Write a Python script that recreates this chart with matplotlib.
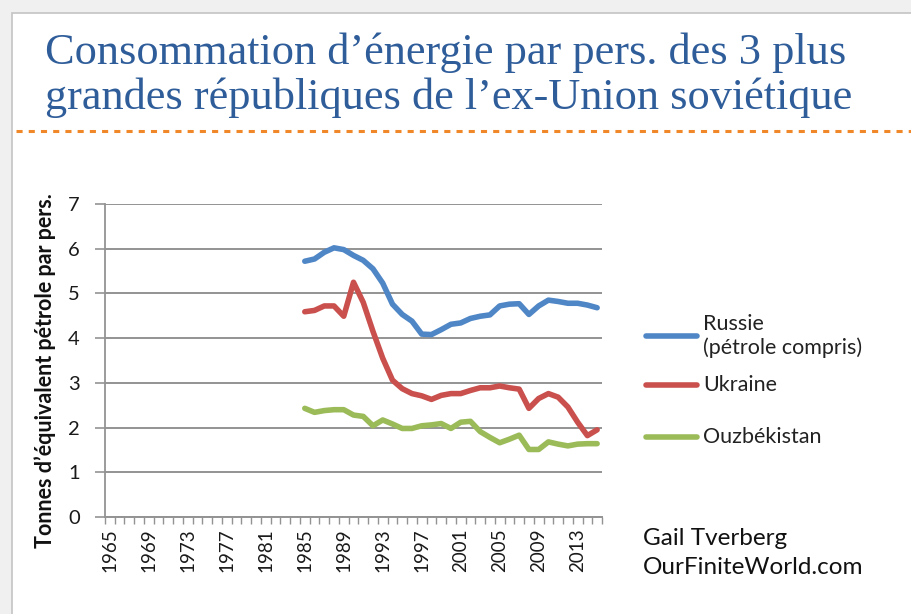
import matplotlib
matplotlib.use("Agg")
import matplotlib.pyplot as plt
from matplotlib.patches import Rectangle
from matplotlib.lines import Line2D
import numpy as np

# ---------------- data ----------------
years = list(range(1985, 2016))
russie = [5.72, 5.77, 5.92, 6.02, 5.98, 5.85, 5.74, 5.55, 5.23, 4.76, 4.53, 4.38, 4.09, 4.08, 4.19,
          4.31, 4.34, 4.44, 4.49, 4.52, 4.72, 4.76, 4.77, 4.53, 4.72, 4.85, 4.82, 4.78, 4.78, 4.74, 4.68]
ukraine = [4.59, 4.62, 4.72, 4.72, 4.49, 5.25, 4.80, 4.15, 3.55, 3.06, 2.87, 2.76, 2.71, 2.63, 2.72,
           2.76, 2.76, 2.83, 2.89, 2.89, 2.93, 2.89, 2.86, 2.43, 2.65, 2.76, 2.68, 2.46, 2.12, 1.82, 1.95]
ouzbek = [2.43, 2.34, 2.38, 2.40, 2.40, 2.28, 2.25, 2.04, 2.17, 2.08, 1.98, 1.98, 2.04, 2.06, 2.09,
          1.98, 2.12, 2.14, 1.91, 1.78, 1.66, 1.74, 1.83, 1.51, 1.51, 1.68, 1.63, 1.59, 1.63, 1.64, 1.64]
labels = ["Russie\n(pétrole compris)", "Ukraine", "Ouzbékistan"]
tick_years = list(range(1965, 2014, 4))
yticks = list(range(0, 8))
title_lines = ["Consommation d\u2019énergie par pers. des 3 plus",
               "grandes républiques de l\u2019ex-Union soviétique"]
ylabel = "Tonnes d\u2019équivalent pétrole par pers."
credit = "Gail Tverberg\nOurFiniteWorld.com"

colors = ["#4f86c6", "#c9504d", "#9bbb59"]

W, H = 912, 614
fig = plt.figure(figsize=(W / 100, H / 100), dpi=100, facecolor="#f0f0f0")

def fx(px):
    return px / W

def fy(py):
    return 1 - py / H

# slide panel
fig.patches.append(Rectangle((fx(12), -0.01), 1 - fx(12) + 0.01, fy(13) + 0.01, transform=fig.transFigure,
                             facecolor="white", edgecolor="#c4c4c4", lw=1.2, zorder=-5))

# title
t1 = fig.text(fx(45), fy(64), title_lines[0], ha="left", va="baseline", family="Liberation Serif",
              fontsize=30, color="#2f5d9a")
fig.canvas.draw()
fs = 30 * 802 / t1.get_window_extent().width
t1.set_fontsize(fs)
fig.text(fx(45), fy(109), title_lines[1], ha="left", va="baseline", family="Liberation Serif",
         fontsize=fs, color="#2f5d9a")

# orange dotted line
fig.add_artist(Line2D([fx(16), 1.0], [fy(131), fy(131)], transform=fig.transFigure,
                      color="#f0882a", lw=2.2, linestyle=(0, (2, 2))))

# axes
ax = fig.add_axes([fx(105), fy(517), fx(602) - fx(105), fy(204) - fy(517)])
for c, s in zip(colors, [russie, ukraine, ouzbek]):
    ax.plot(years, s, color=c, lw=4.0, solid_capstyle="round", solid_joinstyle="round", zorder=3)

ax.set_xlim(1964.5, 2015.5)
ax.set_ylim(0, 7)
ax.set_yticks(yticks)
ax.set_yticklabels([str(v) for v in yticks], family="Lato", fontsize=14.5, color="#1a1a1a")
ax.yaxis.grid(True, color="#939393", lw=1.4)
ax.set_axisbelow(True)
ax.tick_params(axis="y", length=7, width=1.2, color="#939393", pad=11)

ax.set_xticks(tick_years)
ax.set_xticklabels([str(y) for y in tick_years], rotation=90, family="Lato", fontsize=13.5,
                   color="#1a1a1a")
ax.set_xticks(np.arange(1964.5, 2016, 1.0), minor=True)
ax.tick_params(axis="x", which="major", length=0, pad=8)
ax.tick_params(axis="x", which="minor", length=5, width=1.0, color="#939393")

for sp in ["top", "right"]:
    ax.spines[sp].set_visible(False)
ax.spines["left"].set_color("#939393")
ax.spines["left"].set_linewidth(1.3)
ax.spines["bottom"].set_color("#939393")
ax.spines["bottom"].set_linewidth(1.4)

# y label
fig.text(fx(45), fy(371), ylabel, rotation=90, ha="center", va="center", family="Lato",
         fontweight="bold", fontsize=15.5, color="#111111")

# legend (manual)
leg_y = [336, 385, 437]
for c, lab, yy in zip(colors, labels, leg_y):
    fig.add_artist(Line2D([fx(646), fx(697)], [fy(yy), fy(yy)], transform=fig.transFigure,
                          color=c, lw=4.0, solid_capstyle="round"))
    fig.text(fx(703), fy(yy), lab, ha="left", va="center", family="Lato", fontsize=15.5,
             color="#222222", linespacing=1.15)

# credit
fig.text(fx(643), fy(553), credit, ha="left", va="center", family="Lato", fontsize=17.5,
         color="#111111", linespacing=1.5)

fig.savefig("out.png", dpi=100, facecolor=fig.get_facecolor())
